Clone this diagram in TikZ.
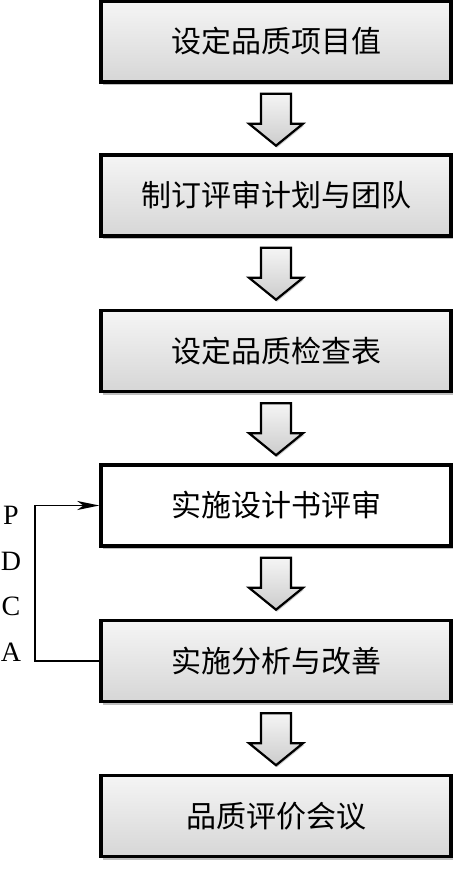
\documentclass[tikz,border=0pt]{standalone}
\usepackage{fontspec}
\setmainfont{Liberation Serif}
\newfontfamily\cjk{Noto Sans CJK SC}
\usetikzlibrary{arrows.meta,shadows,calc}
\tikzset{
  stepbox/.style={draw=black, line width=3.4pt, minimum width=350pt, minimum height=81pt,
    inner sep=0pt, font=\cjk\fontsize{30pt}{34pt}\selectfont,
    top color=gray!8, bottom color=gray!32,
    drop shadow={shadow xshift=1.5pt, shadow yshift=-3pt, opacity=0.25, fill=black}},
  whitebox/.style={stepbox, top color=white, bottom color=white},
  letter/.style={font=\fontsize{28pt}{30pt}\selectfont, inner sep=0pt},
  blockarrow/.style={draw=black, line width=2.2pt, line join=miter,
    top color=gray!8, bottom color=gray!40,
    drop shadow={shadow xshift=1pt, shadow yshift=-2pt, opacity=0.2, fill=black}},
  pics/downarr/.style={code={
    \path[blockarrow] (-15,10) -- (15,10) -- (15,40) -- (27,40) -- (0,62) -- (-27,40) -- (-15,40) -- cycle;
  }}
}
\begin{document}
\begin{tikzpicture}[x=1pt,y=-1pt]
\useasboundingbox (0,0) rectangle (474,880);
\node[stepbox] (b1) at (276,41.5) {设定品质项目值};
\node[stepbox] (b2) at (276,195.5) {制订评审计划与团队};
\node[stepbox] (b3) at (276,351) {设定品质检查表};
\node[whitebox] (b4) at (276,505.5) {实施设计书评审};
\node[stepbox] (b5) at (276,661) {实施分析与改善};
\node[stepbox] (b6) at (276,816) {品质评价会议};
\pic at (b1.south) {downarr};
\pic at (b2.south) {downarr};
\pic at (b3.south) {downarr};
\pic at (b4.south) {downarr};
\pic at (b5.south) {downarr};
\draw[line width=1.8pt, -{Stealth[length=22pt,width=9pt,inset=6pt]}] (b5.west) -- ++(-64,0) |- (b4.west);
\node[letter] (lp) at (11,515) {P};
\node[letter] (ld) at (11,561) {D};
\node[letter] (lc) at (11,606) {C};
\node[letter] (la) at (11,652) {A};
\end{tikzpicture}
\end{document}
